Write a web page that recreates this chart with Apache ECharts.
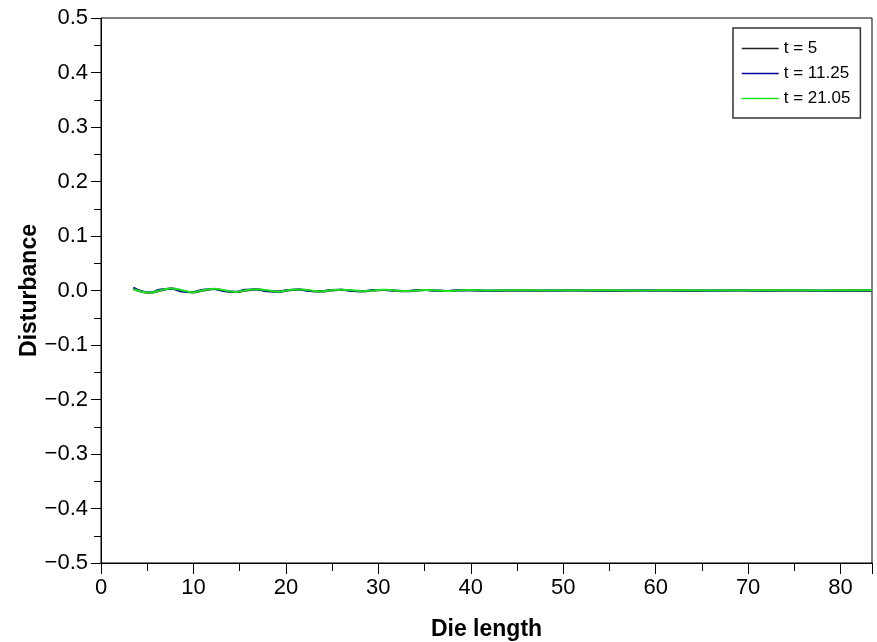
<!DOCTYPE html>
<html>
<head>
<meta charset="utf-8">
<script src="https://cdn.jsdelivr.net/npm/echarts@6/dist/echarts.min.js"></script>
<style>
  html, body { margin: 0; padding: 0; background: #fff; }
  #chart { width: 877px; height: 642px; }
</style>
</head>
<body>
<div id="chart"></div>
<script>
// Position along the die (shared by all three profiles)
const dieLength = [
  3.5, 5.3, 6.45, 7.6, 8.75, 9.9, 11.05, 12.2, 13.35, 14.5,
  15.65, 16.8, 17.95, 19.1, 20.25, 21.4, 22.55, 23.7, 24.85, 26.0,
  27.15, 28.3, 29.45, 30.6, 31.75, 32.9, 34.05, 35.2, 36.35, 37.5,
  38.65, 39.8, 42, 45, 48, 51, 54, 57, 60, 63,
  66, 69, 72, 75, 78, 81, 83.4
];

// Disturbance at t = 5
const disturbT5 = [
  0.0030, -0.0043, -0.0002, 0.0035, -0.0003, -0.0035, -0.0002, 0.0028, -0.0003, -0.0029,
  -0.0002, 0.0022, -0.0003, -0.0024, -0.0002, 0.0018, -0.0003, -0.0020, -0.0002, 0.0014,
  -0.0003, -0.0016, -0.0002, 0.0010, -0.0002, -0.0013, -0.0002, 0.0008, -0.0002, -0.0010,
  -0.0002, 0.0005, -0.0006, 0.0002, -0.0005, 0.0001, -0.0004, -0.0003, 0.0001, -0.0004,
  -0.0001, 0.0002, -0.0004, 0.0001, -0.0005, -0.0002, -0.0006
];

// Disturbance at t = 11.25
const disturbT1125 = [
  0.0055, -0.0035, 0.0020, 0.0031, -0.0018, -0.0028, 0.0016, 0.0026, -0.0015, -0.0023,
  0.0013, 0.0020, -0.0012, -0.0019, 0.0011, 0.0017, -0.0010, -0.0015, 0.0009, 0.0014,
  -0.0008, -0.0012, 0.0007, 0.0010, -0.0006, -0.0009, 0.0005, 0.0008, -0.0005, -0.0007,
  0.0004, 0.0006, -0.0003, 0.0002, -0.0002, 0.0003, -0.0001, 0.0001, -0.0002, 0.0002,
  -0.0003, 0.0003, -0.0001, 0.0002, -0.0003, 0.0001, -0.0002
];

// Disturbance at t = 21.05
const disturbT2105 = [
  0.0022, -0.0040, 0.0006, 0.0037, 0.0006, -0.0032, 0.0005, 0.0030, 0.0005, -0.0026,
  0.0004, 0.0024, 0.0004, -0.0021, 0.0004, 0.0020, 0.0003, -0.0017, 0.0003, 0.0016,
  0.0003, -0.0013, 0.0002, 0.0012, 0.0002, -0.0010, 0.0002, 0.0010, 0.0002, -0.0007,
  0.0002, 0.0008, 0.0001, 0.0004, 0.0002, 0.0003, 0.0004, 0.0002, 0.0003, 0.0005,
  0.0002, 0.0004, 0.0003, 0.0005, 0.0002, 0.0004, 0.0003
];

const seriesNames = ['t = 5', 't = 11.25', 't = 21.05'];
const seriesColors = ['#222222', '#00009c', '#1ee01e'];
const seriesValues = [disturbT5, disturbT1125, disturbT2105];

const fontFamily = '"Liberation Sans", Arial, Helvetica, sans-serif';

function pairUp(xs, ys) {
  return xs.map((x, i) => [x, ys[i]]);
}

function fmtSigned(v) {
  const s = v.toFixed(1);
  return s.replace('-', '\u2212');
}

const chart = echarts.init(document.getElementById('chart'), null, { renderer: 'canvas' });

chart.setOption({
  animation: false,
  backgroundColor: '#ffffff',
  grid: {
    left: 101, right: 5, top: 18, bottom: 79,
    containLabel: false,
    outerBoundsMode: 'none',
    show: true, borderColor: '#000', borderWidth: 1, backgroundColor: 'transparent'
  },
  legend: {
    orient: 'vertical',
    left: 733, top: 28,
    padding: [12, 10, 11, 8],
    itemWidth: 37, itemHeight: 14, itemGap: 8,
    backgroundColor: '#fff',
    borderColor: '#333', borderWidth: 1.5,
    itemStyle: { opacity: 0 },
    lineStyle: { width: 1.5 },
    textStyle: { fontFamily, fontSize: 17, color: '#000' },
    data: seriesNames
  },
  xAxis: {
    type: 'value',
    min: 0, max: 83.4, interval: 10,
    name: 'Die length',
    nameLocation: 'middle',
    nameGap: 55,
    nameTextStyle: { fontFamily, fontSize: 23, fontWeight: 'bold', color: '#000' },
    axisLine: { show: true, onZero: false, lineStyle: { color: '#000', width: 1 } },
    axisTick: { show: true, inside: false, length: 11, lineStyle: { color: '#000' } },
    minorTick: { show: true, splitNumber: 2, length: 8, lineStyle: { color: '#000' } },
    axisLabel: {
      fontFamily, fontSize: 22, color: '#000', margin: 14,
      showMaxLabel: false,
      formatter: v => String(Math.round(v))
    },
    splitLine: { show: false }
  },
  yAxis: {
    type: 'value',
    min: -0.5, max: 0.5, interval: 0.1,
    name: 'Disturbance',
    nameLocation: 'middle',
    nameGap: 60,
    nameMoveOverlap: false,
    nameTextStyle: { fontFamily, fontSize: 23, fontWeight: 'bold', color: '#000' },
    axisLine: { show: true, onZero: false, lineStyle: { color: '#000', width: 1 } },
    axisTick: { show: true, inside: false, length: 10, lineStyle: { color: '#000' } },
    minorTick: { show: true, splitNumber: 2, length: 7, lineStyle: { color: '#000' } },
    axisLabel: {
      fontFamily, fontSize: 22, color: '#000', margin: 13,
      formatter: fmtSigned
    },
    splitLine: { show: false }
  },
  series: seriesNames.map((name, i) => ({
    name,
    type: 'line',
    data: pairUp(dieLength, seriesValues[i]),
    smooth: 0.5,
    symbol: 'none',
    color: seriesColors[i],
    lineStyle: { color: seriesColors[i], width: 2 }
  }))
});
</script>
</body>
</html>
